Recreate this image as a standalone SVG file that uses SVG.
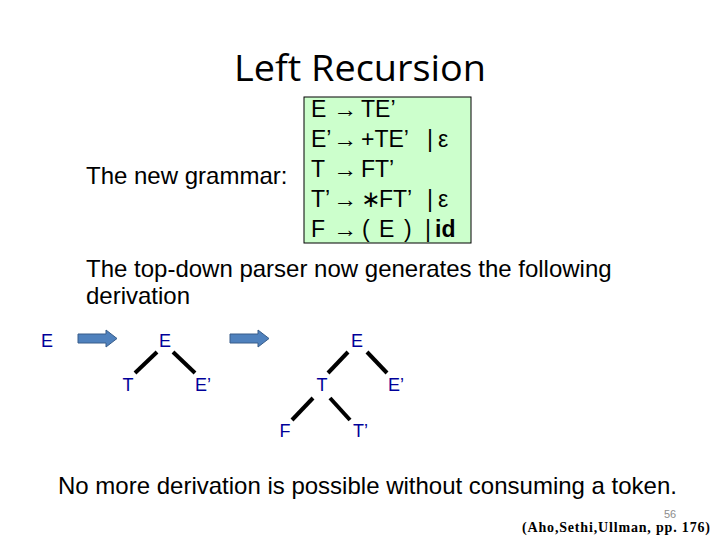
<svg xmlns="http://www.w3.org/2000/svg" width="720" height="540" viewBox="0 0 720 540">
<style>
.body{font-family:"Liberation Sans",Arial,sans-serif;font-size:24px;fill:#000}
.g{font-family:"Liberation Sans",Arial,"DejaVu Sans",sans-serif;font-size:23px;fill:#000}
.lbl{font-family:"Liberation Sans",Arial,sans-serif;font-size:18px;fill:#000099}
.edge{stroke:#000;stroke-width:4;stroke-linecap:butt}
.barrow{fill:#4f81bd;stroke:#385d8a;stroke-width:1}
</style>
<rect width="720" height="540" fill="#fff"/>
<text id="title" x="234" y="81" font-family="'Open Sans',sans-serif" font-size="36" textLength="252" lengthAdjust="spacingAndGlyphs">Left Recursion</text>
<g id="grammar-label"><text class="body" x="86" y="184">The new grammar:</text></g>
<g id="grammar">
<rect x="304" y="97" width="167" height="146" fill="#ccffcc" stroke="#000" stroke-width="1"/>
<text class="g" x="311" y="117">E</text><text class="g" x="333" y="117" textLength="24" lengthAdjust="spacingAndGlyphs">→</text><text class="g" x="361" y="117">TE’</text>
<text class="g" x="311" y="147">E’</text><text class="g" x="333" y="147" textLength="24" lengthAdjust="spacingAndGlyphs">→</text><text class="g" x="361" y="147">+TE’</text><text class="g" x="427" y="147">|</text><text class="g" x="438" y="147">ε</text>
<text class="g" x="311" y="177">T</text><text class="g" x="333" y="177" textLength="24" lengthAdjust="spacingAndGlyphs">→</text><text class="g" x="361" y="177">FT’</text>
<text class="g" x="311" y="207">T’</text><text class="g" x="333" y="207" textLength="24" lengthAdjust="spacingAndGlyphs">→</text><text class="g" x="361" y="207" font-size="20">∗</text><text class="g" x="379" y="207">FT’</text><text class="g" x="427" y="207">|</text><text class="g" x="438" y="207">ε</text>
<text class="g" x="311" y="237">F</text><text class="g" x="333" y="237" textLength="24" lengthAdjust="spacingAndGlyphs">→</text><text class="g" x="362" y="237">(</text><text class="g" x="379" y="237">E</text><text class="g" x="404" y="237">)</text><text class="g" x="425" y="237">|</text><text class="g" x="435" y="237" font-weight="bold">id</text>
</g>
<g id="intro">
<text class="body" x="86" y="277">The top-down parser now generates the following</text>
<text class="body" x="86" y="304">derivation</text>
</g>
<g id="connectors">
<path class="barrow" d="M78,334 H106 V330 L117,338.5 L106,347 V343 H78 Z"/>
<path class="barrow" d="M230,334 H258 V330 L269,338.5 L258,347 V343 H230 Z"/>
<line class="edge" x1="157" y1="352" x2="135" y2="373"/>
<line class="edge" x1="173" y1="352" x2="195" y2="373"/>
<line class="edge" x1="348" y1="352" x2="328" y2="373"/>
<line class="edge" x1="367" y1="352" x2="387" y2="373"/>
<line class="edge" x1="313" y1="398" x2="292" y2="420"/>
<line class="edge" x1="330" y1="398" x2="350" y2="420"/>
</g>
<g id="n-E0"><text class="lbl" x="47" y="347" text-anchor="middle">E</text></g>
<g id="n-E1"><text class="lbl" x="165" y="347" text-anchor="middle">E</text></g>
<g id="n-T1"><text class="lbl" x="128" y="391" text-anchor="middle">T</text></g>
<g id="n-E1p"><text class="lbl" x="195" y="391">E’</text></g>
<g id="n-E2"><text class="lbl" x="357" y="347" text-anchor="middle">E</text></g>
<g id="n-T2"><text class="lbl" x="322" y="391" text-anchor="middle">T</text></g>
<g id="n-E2p"><text class="lbl" x="388" y="391">E’</text></g>
<g id="n-F"><text class="lbl" x="285" y="437" text-anchor="middle">F</text></g>
<g id="n-Tp"><text class="lbl" x="353" y="437">T’</text></g>
<g id="footer">
<text class="body" x="58" y="494">No more derivation is possible without consuming a token.</text>
<text x="670" y="518" text-anchor="middle" font-family="'Liberation Sans',Arial,sans-serif" font-size="11" fill="#8c8c8c">56</text>
<text x="522" y="532" font-family="'Liberation Serif','Times New Roman',serif" font-size="14" font-weight="bold" textLength="188" lengthAdjust="spacing">(Aho,Sethi,Ullman, pp. 176)</text>
</g>
</svg>
